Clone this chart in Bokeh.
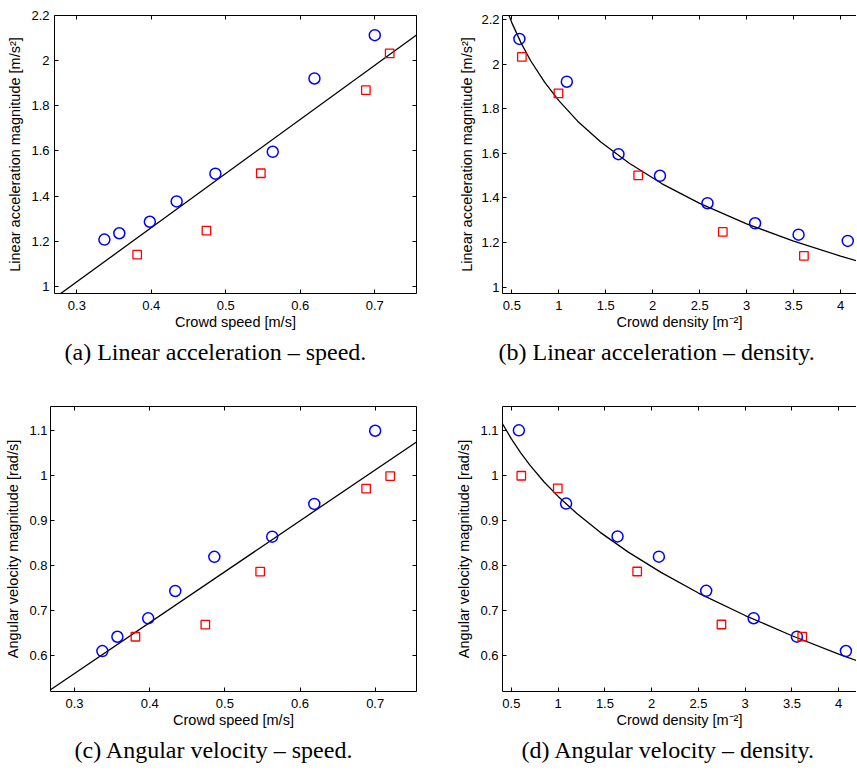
from bokeh.plotting import figure
from bokeh.models import Range1d, LinearAxis, FixedTicker, Title, CustomJSTickFormatter
from bokeh.layouts import column, row
from bokeh.embed import file_html
from bokeh.resources import INLINE

# ---- data ----
blue_speed = [0.337, 0.357, 0.398, 0.434, 0.486, 0.563, 0.619, 0.700]
blue_density = [4.077, 3.553, 3.090, 2.583, 2.077, 1.635, 1.085, 0.580]
blue_acc = [1.207, 1.235, 1.286, 1.376, 1.499, 1.596, 1.921, 2.113]
blue_ang = [0.609, 0.641, 0.682, 0.743, 0.819, 0.864, 0.937, 1.100]

red_speed = [0.381, 0.474, 0.547, 0.688, 0.720]
red_density = [3.610, 2.746, 1.845, 0.996, 0.606]
red_acc = [1.140, 1.247, 1.501, 1.869, 2.032]
red_ang = [0.641, 0.668, 0.786, 0.971, 0.999]

# fitted lines / curves
fit_a_x = [0.27, 0.756]
fit_a_y = [0.948, 2.114]
fit_c_x = [0.268, 0.755]
fit_c_y = [0.523, 1.075]
fit_b_x = [0.44, 0.5, 0.6, 0.7, 0.85, 1.0, 1.2, 1.45, 1.75, 2.1, 2.5, 3.0, 3.5, 4.0, 4.2]
fit_b_y = [2.249, 2.185, 2.093, 2.015, 1.918, 1.836, 1.744, 1.649, 1.555, 1.463, 1.375, 1.283, 1.206, 1.139, 1.114]
fit_d_x = [0.4, 0.5, 0.6, 0.7, 0.85, 1.0, 1.2, 1.45, 1.75, 2.1, 2.5, 3.0, 3.5, 4.0, 4.2]
fit_d_y = [1.116, 1.081, 1.050, 1.022, 0.985, 0.953, 0.915, 0.873, 0.829, 0.784, 0.738, 0.688, 0.643, 0.602, 0.587]

speed_ticks = [0.3, 0.4, 0.5, 0.6, 0.7]
density_ticks = [0.5, 1, 1.5, 2, 2.5, 3, 3.5, 4]
acc_ticks = [1, 1.2, 1.4, 1.6, 1.8, 2, 2.2]
ang_ticks = [0.6, 0.7, 0.8, 0.9, 1, 1.1]

SANS = "'Liberation Sans', Arial, sans-serif"
SERIF = "'Liberation Serif', serif"
BLUE = "#0000ff"
RED = "#ff0000"

fmt_code = "return String(Math.round(tick*1000)/1000);"


def style_axis(ax, labels=True, lab_standoff=4, ax_standoff=4):
    ax.axis_line_color = "black"
    ax.axis_line_width = 1
    ax.major_tick_line_color = "black"
    ax.major_tick_in = 4
    ax.major_tick_out = 0
    ax.minor_tick_line_color = None
    ax.formatter = CustomJSTickFormatter(code=fmt_code)
    if labels:
        ax.major_label_text_font = SANS
        ax.major_label_text_font_size = "13px"
        ax.major_label_text_color = "black"
        ax.major_label_standoff = lab_standoff
        ax.axis_label_text_font = SANS
        ax.axis_label_text_font_size = "14.5px"
        ax.axis_label_text_font_style = "normal"
        ax.axis_label_text_color = "black"
        ax.axis_label_standoff = ax_standoff
    else:
        ax.major_label_text_font_size = "0px"
        ax.major_label_text_color = None
        ax.major_label_standoff = 0


def panel(width, height, mb, xr, yr, xt, yt, xlabel, ylabel, caption, cap_offset, right_axis,
          bx, by, rx, ry, fx, fy, lstand):
    p = figure(width=width, height=height, x_range=Range1d(*xr), y_range=Range1d(*yr),
               output_backend="svg", toolbar_location=None,
               x_axis_location=None, y_axis_location=None,
               min_border_left=mb[0], min_border_right=mb[1],
               min_border_top=mb[2], min_border_bottom=mb[3])
    p.outline_line_color = None
    p.grid.visible = False
    p.background_fill_color = "white"
    p.border_fill_color = "white"

    bottom = LinearAxis(ticker=FixedTicker(ticks=xt), axis_label=xlabel)
    style_axis(bottom, True, 7, 1)
    left = LinearAxis(ticker=FixedTicker(ticks=yt), axis_label=ylabel)
    style_axis(left, True, lstand[0], lstand[1])
    top = LinearAxis(ticker=FixedTicker(ticks=xt))
    style_axis(top, False)
    p.add_layout(bottom, "below")
    p.add_layout(left, "left")
    p.add_layout(top, "above")
    if right_axis:
        right = LinearAxis(ticker=FixedTicker(ticks=yt))
        style_axis(right, False)
        p.add_layout(right, "right")

    p.line(fx, fy, line_color="black", line_width=1.3)
    p.scatter(bx, by, marker="circle", size=11, fill_color=None, line_color=BLUE, line_width=1.5)
    p.scatter(rx, ry, marker="square", size=8.5, fill_color=None, line_color=RED, line_width=1.3)

    t = Title(text=caption, align="left", offset=cap_offset, text_font=SERIF,
              text_font_size="24px", text_font_style="normal", text_color="black", standoff=8)
    p.add_layout(t, "below")
    return p


pa = panel(453, 393, (54, 37, 15, 96), (0.27, 0.756), (0.968, 2.2), speed_ticks, acc_ticks,
           "Crowd speed [m/s]", "Linear acceleration magnitude [m/s²]",
           "(a) Linear acceleration – speed.", 10, True,
           blue_speed, blue_acc, red_speed, red_acc, fit_a_x, fit_a_y, (5, 5))
pb = panel(403, 393, (49, 0, 7, 100), (0.4, 4.17), (0.971, 2.218), density_ticks, acc_ticks,
           "Crowd density [m⁻²]", "Linear acceleration magnitude [m/s²]",
           "(b) Linear acceleration – density.", -4, False,
           blue_density, blue_acc, red_density, red_acc, fit_b_x, fit_b_y, (3, 3))
pc = panel(453, 381, (50, 37, 13, 80), (0.268, 0.755), (0.519, 1.154), speed_ticks, ang_ticks,
           "Crowd speed [m/s]", "Angular velocity magnitude [rad/s]",
           "(c) Angular velocity – speed.", 24, True,
           blue_speed, blue_ang, red_speed, red_ang, fit_c_x, fit_c_y, (3, 5))
pd_ = panel(403, 381, (46, 0, 10, 83), (0.405, 4.19), (0.519, 1.153), density_ticks, ang_ticks,
            "Crowd density [m⁻²]", "Angular velocity magnitude [rad/s]",
            "(d) Angular velocity – density.", 19, False,
            blue_density, blue_ang, red_density, red_ang, fit_d_x, fit_d_y, (4, 5))

layout = column(row(pa, pb), row(pc, pd_))
open("out.html", "w").write(file_html(layout, INLINE))
